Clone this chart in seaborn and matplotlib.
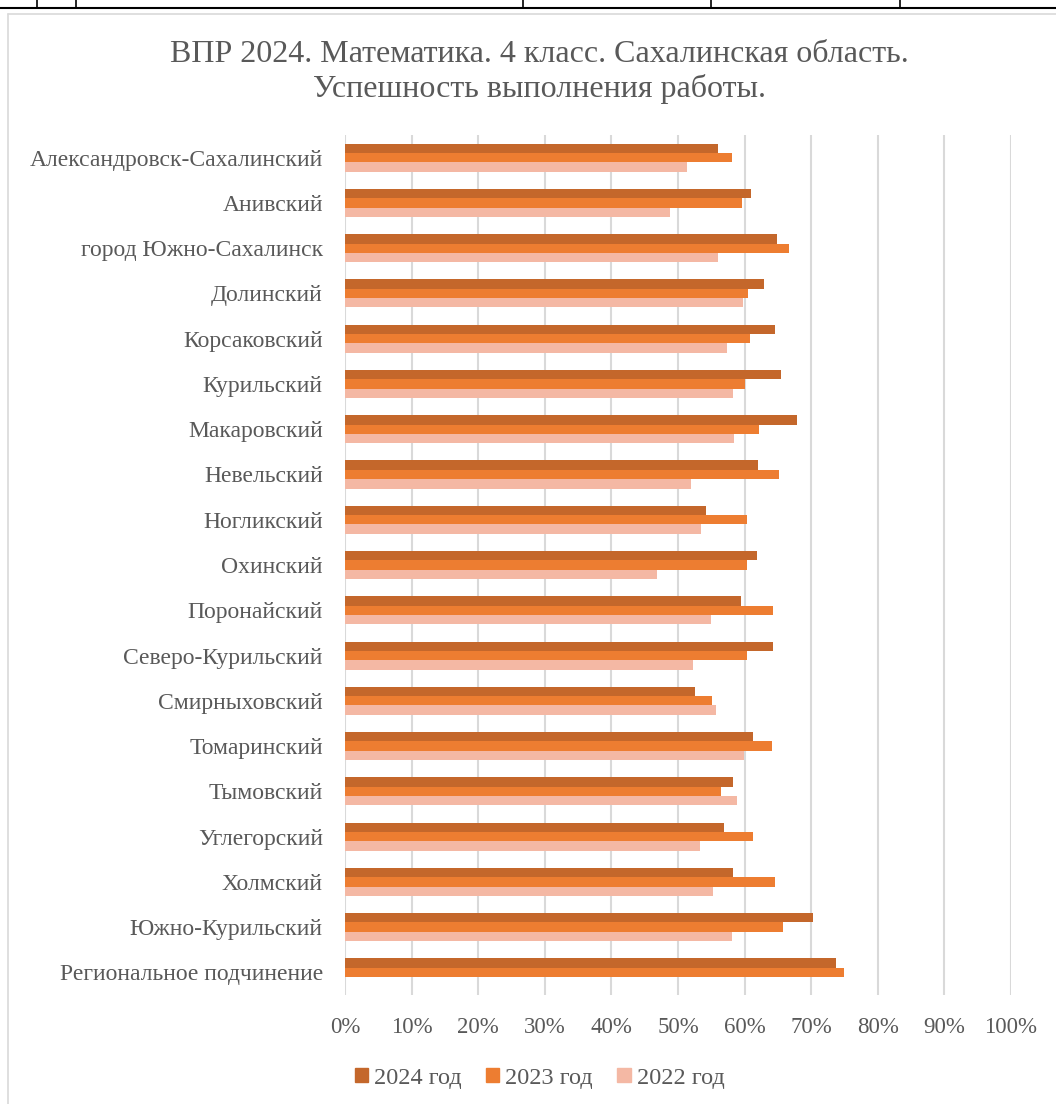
import numpy as np
import pandas as pd
import seaborn as sns
import matplotlib.pyplot as plt
from matplotlib.lines import Line2D

# районы (сверху вниз)
districts = [
    "Александровск-Сахалинский", "Анивский", "город Южно-Сахалинск", "Долинский",
    "Корсаковский", "Курильский", "Макаровский", "Невельский", "Ногликский",
    "Охинский", "Поронайский", "Северо-Курильский", "Смирныховский",
    "Томаринский", "Тымовский", "Углегорский", "Холмский", "Южно-Курильский",
    "Региональное подчинение",
]

# успешность, %
y2024 = [56.0, 61.0, 64.9, 62.9, 64.6, 65.4, 67.8, 62.0, 54.2, 61.8, 59.5,
         64.2, 52.5, 61.3, 58.3, 56.9, 58.3, 70.2, 73.7]
y2023 = [58.1, 59.6, 66.7, 60.5, 60.8, 60.1, 62.1, 65.1, 60.3, 60.4, 64.3,
         60.3, 55.1, 64.1, 56.4, 61.3, 64.5, 65.7, 74.9]
y2022 = [51.3, 48.8, 56.0, 59.8, 57.3, 58.2, 58.4, 51.9, 53.4, 46.9, 54.9,
         52.3, 55.7, 59.9, 58.8, 53.3, 55.3, 58.1, np.nan]

years = ["2024 год", "2023 год", "2022 год"]
colors = ["#C4672B", "#ED7D31", "#F4B8A4"]

df = pd.DataFrame({
    "district": districts * 3,
    "year": [years[0]] * len(districts) + [years[1]] * len(districts) + [years[2]] * len(districts),
    "value": y2024 + y2023 + y2022,
})

sns.set_style("white")
plt.rcParams["font.family"] = ["Liberation Serif", "DejaVu Serif"]

fig = plt.figure(figsize=(10.56, 11.04), dpi=100)
ax = fig.add_axes([0.3267, 0.0987, 0.6307, 0.779])

sns.barplot(data=df, x="value", y="district", hue="year", hue_order=years,
            palette=colors, orient="h", width=0.62, ax=ax, legend=True,
            errorbar=None, saturation=1, linewidth=0, zorder=3)

ax.set_xlim(0, 100)
ax.set_xticks(range(0, 101, 10))
ax.set_xticklabels([f"{v}%" for v in range(0, 101, 10)])
ax.xaxis.grid(True, color="#D9D9D9", linewidth=1.5, zorder=0)
ax.yaxis.grid(False)
ax.set_axisbelow(True)
for s in ax.spines.values():
    s.set_visible(False)
ax.set_xlabel("")
ax.set_ylabel("")
ax.tick_params(axis="x", labelsize=16.5, colors="#595959", pad=16, length=0)
ax.tick_params(axis="y", labelsize=17, colors="#595959", pad=16, length=0)

ax.legend_.remove()
handles = [plt.Rectangle((0, 0), 1, 1, color=c) for c in colors]
fig.legend(handles, years, loc="center", bbox_to_anchor=(0.511, 0.0235),
           ncol=3, frameon=False, fontsize=17.5, handlelength=0.55, handleheight=0.55,
           handletextpad=0.25, columnspacing=1.0, labelcolor="#595959")

fig.text(0.511, 0.935, "ВПР 2024. Математика. 4 класс. Сахалинская область.\nУспешность выполнения работы.",
         ha="center", va="center", fontsize=23, color="#595959", linespacing=1.2)

# обрывок таблицы сверху и рамка диаграммы
W, H = 1056, 1104
fig.add_artist(Line2D([0, 1], [1 - 8 / H, 1 - 8 / H], color="black", lw=1.5))
for x in [37, 76, 523, 711, 900]:
    fig.add_artist(Line2D([x / W, x / W], [1, 1 - 8 / H], color="black", lw=1.2))
fig.add_artist(Line2D([8 / W, 1], [1 - 14 / H, 1 - 14 / H], color="#D9D9D9", lw=1.2))
fig.add_artist(Line2D([8 / W, 8 / W], [0, 1 - 14 / H], color="#D9D9D9", lw=1.2))

fig.savefig("out.png", dpi=100)
